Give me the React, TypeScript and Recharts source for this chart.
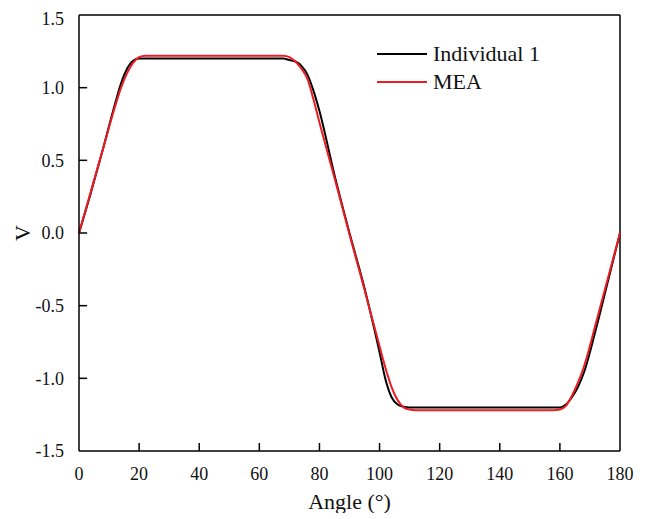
import { LineChart, Line, XAxis, YAxis, ReferenceLine, Label } from "recharts";

// angle grid (degrees)
const angles = [
  0, 4, 8, 12, 14, 16, 18, 20, 22, 24, 30, 40, 50, 60, 64, 66, 68, 70, 72, 74,
  76, 78, 80, 85, 90, 95, 100, 102, 104, 106, 108, 110, 112, 114, 120, 130, 140,
  150, 156, 158, 160, 162, 164, 166, 168, 172, 176, 180,
];

const individual1 = [
  0, 0.28, 0.58, 0.89, 1.03, 1.13, 1.185, 1.2, 1.2, 1.2, 1.2, 1.2, 1.2, 1.2, 1.2,
  1.2, 1.2, 1.19, 1.18, 1.15, 1.09, 0.98, 0.84, 0.4, 0.0, -0.38, -0.82, -1.01,
  -1.13, -1.18, -1.195, -1.2, -1.2, -1.2, -1.2, -1.2, -1.2, -1.2, -1.2, -1.2,
  -1.2, -1.18, -1.13, -1.06, -0.96, -0.66, -0.33, 0,
];

const mea = [
  0, 0.29, 0.58, 0.87, 1.0, 1.1, 1.17, 1.21, 1.22, 1.22, 1.22, 1.22, 1.22, 1.22,
  1.22, 1.22, 1.22, 1.21, 1.18, 1.13, 1.06, 0.92, 0.76, 0.38, -0.01, -0.39, -0.78,
  -0.93, -1.06, -1.15, -1.2, -1.215, -1.22, -1.22, -1.22, -1.22, -1.22, -1.22,
  -1.22, -1.22, -1.215, -1.19, -1.12, -1.03, -0.92, -0.62, -0.31, 0,
];

const xTicks = [0, 20, 40, 60, 80, 100, 120, 140, 160, 180];
const yTicks = [-1.5, -1.0, -0.5, 0, 0.5, 1.0, 1.5];

const data = angles.map((a, i) => ({
  angle: a,
  individual1: individual1[i],
  mea: mea[i],
}));

const font = "'Liberation Serif', 'Times New Roman', serif";

const legendItems = [
  { name: "Individual 1", color: "#000000" },
  { name: "MEA", color: "#ee1c22" },
];

// inward tick length, expressed in axis units (about 8px)
const X_TICK_LEN = 0.055; // in V
const Y_TICK_LEN = 2.7; // in degrees

const xInner = xTicks.slice(1, -1);
const yInner = yTicks.slice(1, -1);

export default function App() {
  return (
    <div style={{ position: "relative", width: 640, height: 505, background: "#fff" }}>
      <LineChart
        width={640}
        height={505}
        data={data}
        margin={{ top: 7, right: 28, left: 0, bottom: 0 }}
      >
        <XAxis
          dataKey="angle"
          type="number"
          domain={[0, 180]}
          ticks={xTicks}
          height={62}
          tickLine={false}
          tickMargin={10}
          stroke="#000"
          strokeWidth={1.5}
          tick={{ fill: "#111", fontSize: 18, fontFamily: font }}
        >
          <Label
            value="Angle (°)"
            position="insideBottom"
            offset={4}
            style={{ fill: "#111", fontSize: 22, fontFamily: font }}
          />
        </XAxis>
        <YAxis
          type="number"
          domain={[-1.5, 1.5]}
          ticks={yTicks}
          width={71}
          tickLine={false}
          tickMargin={9}
          stroke="#000"
          strokeWidth={1.5}
          tickFormatter={(v: number) => v.toFixed(1)}
          tick={{ fill: "#111", fontSize: 18, fontFamily: font }}
        >
          <Label
            value="V"
            angle={-90}
            position="insideLeft"
            offset={14}
            style={{
              fill: "#111",
              fontSize: 22,
              fontFamily: font,
              textAnchor: "middle",
            }}
          />
        </YAxis>
        <ReferenceLine y={1.5} stroke="#000" strokeWidth={1.5} />
        <ReferenceLine x={180} stroke="#000" strokeWidth={1.5} />
        {xInner.map((t) => (
          <ReferenceLine
            key={`xt-${t}`}
            segment={[
              { x: t, y: -1.5 },
              { x: t, y: -1.5 + X_TICK_LEN },
            ]}
            stroke="#000"
            strokeWidth={1.5}
          />
        ))}
        {yInner.map((t) => (
          <ReferenceLine
            key={`yt-${t}`}
            segment={[
              { x: 0, y: t },
              { x: Y_TICK_LEN, y: t },
            ]}
            stroke="#000"
            strokeWidth={1.5}
          />
        ))}
        <Line
          type="monotone"
          dataKey="individual1"
          name="Individual 1"
          stroke="#000000"
          strokeWidth={2}
          dot={false}
          isAnimationActive={false}
        />
        <Line
          type="monotone"
          dataKey="mea"
          name="MEA"
          stroke="#ee1c22"
          strokeWidth={2}
          dot={false}
          isAnimationActive={false}
        />
      </LineChart>
      <div
        style={{
          position: "absolute",
          left: 369,
          top: 32,
          fontFamily: font,
          fontSize: 22,
          color: "#111",
        }}
      >
        {legendItems.map((it) => (
          <div
            key={it.name}
            style={{ display: "flex", alignItems: "center", height: 28 }}
          >
            <span
              style={{
                display: "inline-block",
                width: 50,
                height: 2,
                background: it.color,
                marginRight: 6,
              }}
            />
            <span>{it.name}</span>
          </div>
        ))}
      </div>
    </div>
  );
}
